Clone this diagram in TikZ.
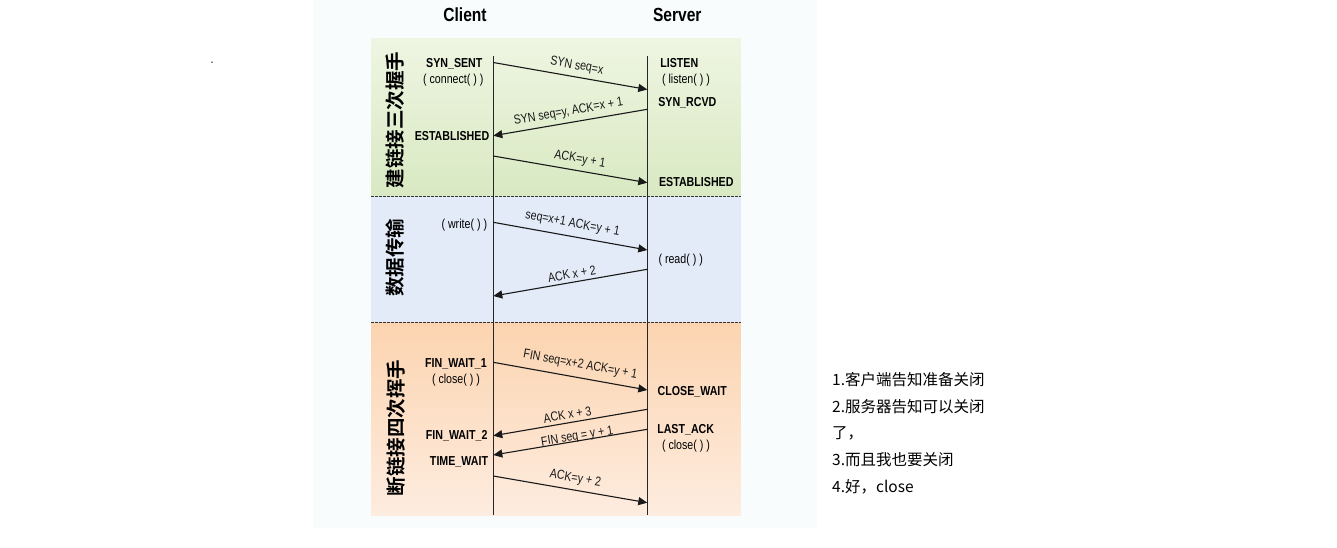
\documentclass[tikz,border=0pt]{standalone}
\usepackage{graphicx}
\usepackage{fontspec}
\setmainfont[FakeStretch=0.82]{Liberation Sans}
\newfontfamily\plainsans{Liberation Sans}
\newfontfamily\cjk[BoldFont={Noto Sans CJK SC Bold}]{Noto Sans CJK SC}
\usetikzlibrary{arrows.meta}

\definecolor{bgpanel}{RGB}{248,252,253}
\definecolor{greentop}{RGB}{239,245,226}
\definecolor{greenbot}{RGB}{216,233,194}
\definecolor{blueside}{RGB}{227,235,248}
\definecolor{bluemid}{RGB}{194,214,241}
\definecolor{orangetop}{RGB}{252,212,176}
\definecolor{orangebot}{RGB}{253,236,223}

% narrow text for the sloped labels
\newcommand{\narrowtxt}[1]{\scalebox{.82}[1]{#1}}

\begin{document}
\begin{tikzpicture}[x=1pt,y=-1pt,
        life/.style={line width=1.2pt,black!85},
        msg/.style={line width=1.1pt,black!90,-{Triangle[length=9pt,width=8pt]}},
        lbl/.style={sloped,inner sep=1pt,text height=9.3pt,text depth=2.5pt,
            font=\plainsans\fontsize{13}{13}\selectfont},
        state/.style={inner sep=0pt,text height=9.4pt,text depth=0pt,
            font=\bfseries\fontsize{13}{13}\selectfont},
        call/.style={inner sep=0pt,text height=9.4pt,text depth=0pt,
            font=\fontsize{13}{13}\selectfont},
        head/.style={inner sep=0pt,text height=13.6pt,text depth=0pt,
            font=\bfseries\fontsize{19}{19}\selectfont},
        phase/.style={rotate=90,inner sep=0pt,text height=17pt,text depth=2.4pt,
            font=\cjk\bfseries\fontsize{19.5}{19.5}\selectfont},
        note/.style={anchor=base west,inner sep=0pt,
            font=\cjk\fontsize{15.5}{15.5}\selectfont},
        sep/.style={black!80,line width=.8pt,dash pattern=on 2.5pt off 1.5pt}
    ]
    \useasboundingbox (0,0) rectangle (1337,547);
    \fill[bgpanel] (312.5,0) rectangle (817,528);
    % three phases
    \shade[top color=greentop,bottom color=greenbot] (371,38.3) rectangle (740.7,196);
    \shade[left color=blueside,middle color=bluemid,right color=blueside] (371,196) rectangle (740.7,322.5);
    \shade[top color=orangetop,bottom color=orangebot] (371,322.5) rectangle (740.7,515);
    \draw[sep] (371,196) -- (740.7,196);
    \draw[sep] (371,322.5) -- (740.7,322.5);

    \node[inner sep=0pt,font=\fontsize{13}{13}\selectfont] (dot) at (212,63) {.};

    \node[head] (client) at (465,15) {Client};
    \node[head] (server) at (677.3,15) {Server};

    \node[phase] (shake) at (395,120) {建链接三次握手};
    \node[phase] (data) at (395,257.5) {数据传输};
    \node[phase] (wave) at (396.5,428) {断链接四次挥手};

    % lifelines
    \coordinate (ctop) at (493.3,56);
    \coordinate (cbot) at (493.3,515);
    \coordinate (stop) at (647.3,56);
    \coordinate (sbot) at (647.3,515);
    \draw[life] (ctop) -- (cbot);
    \draw[life] (stop) -- (sbot);

    % states
    \node[state] (synsent) at (454.3,62.3) {SYN\_SENT};
    \node[call] (connect) at (453.3,79) {( connect( ) )};
    \node[state] (listen) at (679.3,62.3) {LISTEN};
    \node[call] (listenf) at (686,79) {( listen( ) )};
    \node[state] (synrcvd) at (687.3,101.7) {SYN\_RCVD};
    \node[state] (cest) at (452,136) {ESTABLISHED};
    \node[state] (sest) at (696.3,181.7) {ESTABLISHED};
    \node[call] (write) at (464.3,223.3) {( write( ) )};
    \node[call] (read) at (680.7,258.3) {( read( ) )};
    \node[state] (finwait1) at (456,362.3) {FIN\_WAIT\_1};
    \node[call] (cclose) at (456,378.3) {( close( ) )};
    \node[state] (closewait) at (692.3,390.7) {CLOSE\_WAIT};
    \node[state] (lastack) at (685.7,429) {LAST\_ACK};
    \node[call] (sclose) at (686,445) {( close( ) )};
    \node[state] (finwait2) at (456.7,435) {FIN\_WAIT\_2};
    \node[state] (timewait) at (459,461) {TIME\_WAIT};

    % message ends on the two lifelines
    \foreach \i/\yc/\ys in {1/62.5/89.5,2/135.7/109.3,3/156/182.7,4/222.3/250,
            5/296/269.3,6/362.3/390,7/435.7/409.3,8/455/429.3,9/476/502.7}{
        \coordinate (c\i) at (493.3,\yc);
        \coordinate (s\i) at (647.3,\ys);
    }
    \draw[msg] (c1) -- node[lbl,pos=.53,above=3.5pt] {\narrowtxt{SYN seq=x}} (s1);
    \draw[msg] (s2) -- node[lbl,pos=.5,above=3.3pt] {\narrowtxt{SYN seq=y, ACK=x + 1}} (c2);
    \draw[msg] (c3) -- node[lbl,pos=.55,above=4pt] {\narrowtxt{ACK=y + 1}} (s3);
    \draw[msg] (c4) -- node[lbl,pos=.5,above=5pt] {\narrowtxt{seq=x+1 ACK=y + 1}} (s4);
    \draw[msg] (s5) -- node[lbl,pos=.48,above=0pt] {\narrowtxt{ACK x + 2}} (c5);
    \draw[msg] (c6) -- node[lbl,pos=.55,above=5.5pt] {\narrowtxt{FIN seq=x+2 ACK=y + 1}} (s6);
    \draw[msg] (s7) -- node[lbl,pos=.51,above=-.3pt] {\narrowtxt{ACK x + 3}} (c7);
    \draw[msg] (s8) -- node[lbl,pos=.45,above=-3.2pt] {\narrowtxt{FIN seq = y + 1}} (c8);
    \draw[msg] (c9) -- node[lbl,pos=.52,above=4pt] {\narrowtxt{ACK=y + 2}} (s9);

    % notes on the right
    \foreach \t [count=\i] in {1.客户端告知准备关闭,2.服务器告知可以关闭,了，,3.而且我也要关闭,4.好，close}
        \node[note] (note\i) at (832,385.4+26.7*\i-26.7) {\t};
\end{tikzpicture}
\end{document}
